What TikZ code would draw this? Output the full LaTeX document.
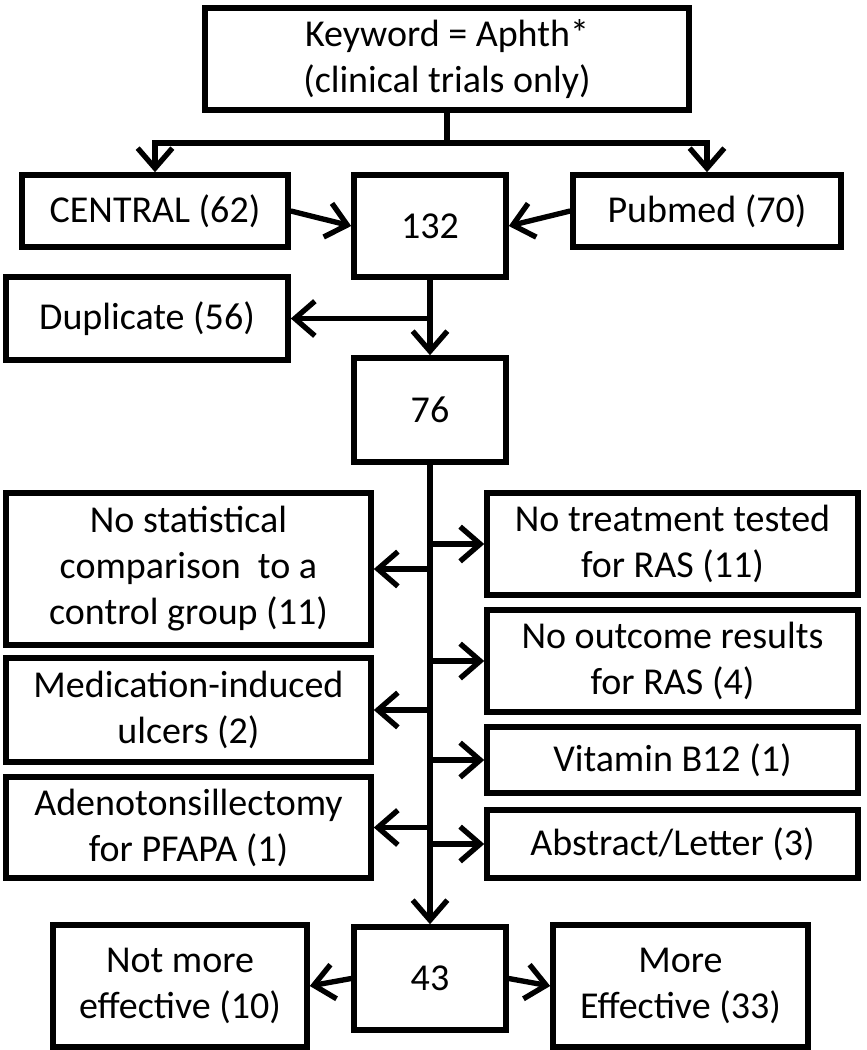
\documentclass[tikz,border=0pt]{standalone}
\usepackage{fontspec}
\setmainfont{Carlito}
\usetikzlibrary{arrows.meta}

\begin{document}
\begin{tikzpicture}[x=0.75pt,y=-0.75pt,
    box/.style={draw, line width=4.2pt, align=center, inner sep=0pt,
      font=\fontsize{28.5pt}{34.5pt}\selectfont},
    link/.style={line width=4pt},
    arr/.style={link, -{Straight Barb[length=15pt,width=26pt,line width=4pt]}}]
  %%%%% START %%%%%
  \useasboundingbox (0,0) rectangle (867,1050);

  \node[box, minimum width=484*0.75pt, minimum height=102*0.75pt] (kw) at (447,59) {Keyword = Aphth*\\(clinical trials only)};
  \node[box, minimum width=266*0.75pt, minimum height=72*0.75pt] (central) at (155,211) {CENTRAL (62)};
  \node[box, minimum width=152*0.75pt, minimum height=102*0.75pt] (n132) at (430,226) {132};
  \node[box, minimum width=268*0.75pt, minimum height=72*0.75pt] (pubmed) at (707,211) {Pubmed (70)};
  \node[box, minimum width=282*0.75pt, minimum height=83*0.75pt] (dup) at (147,318.5) {Duplicate (56)};
  \node[box, minimum width=152*0.75pt, minimum height=104*0.75pt] (n76) at (430,410) {76};

  \node[box, minimum width=365*0.75pt, minimum height=152*0.75pt] (nostat) at (188.5,569) {No statistical\\comparison\ \ to a\\control group (11)};
  \node[box, minimum width=365*0.75pt, minimum height=104*0.75pt] (medic) at (188.5,710) {Medication-induced\\ulcers (2)};
  \node[box, minimum width=365*0.75pt, minimum height=101*0.75pt] (adeno) at (188.5,827.5) {Adenotonsillectomy\\for PFAPA (1)};
  \node[box, minimum width=371*0.75pt, minimum height=102*0.75pt] (notreat) at (672.5,544) {No treatment tested\\for RAS (11)};
  \node[box, minimum width=371*0.75pt, minimum height=102*0.75pt] (nooutc) at (672.5,661) {No outcome results\\for RAS (4)};
  \node[box, minimum width=371*0.75pt, minimum height=66*0.75pt] (vitb) at (672.5,760) {Vitamin B12 (1)};
  \node[box, minimum width=371*0.75pt, minimum height=68*0.75pt] (abstr) at (672.5,844) {Abstract/Letter (3)};

  \node[box, minimum width=152*0.75pt, minimum height=103*0.75pt] (n43) at (430,978.5) {43};
  \node[box, minimum width=254*0.75pt, minimum height=122*0.75pt] (notmore) at (180,986) {Not more\\effective (10)};
  \node[box, minimum width=255*0.75pt, minimum height=122*0.75pt] (more) at (680.5,986) {More\\Effective (33)};

  % split below the keyword box
  \coordinate (split) at (447,143);
  \draw[link] (kw.south) -- (split);
  \draw[arr] (split) -| (central);
  \draw[arr] (split) -| (pubmed);
  \draw[arr] (central.east) -- (n132.west);
  \draw[arr] (pubmed.west) -- (n132.east);

  \draw[arr] (n132) -- (n76);
  \draw[arr] (n132.south |- dup) -- (dup.east);

  % exclusions off the trunk
  \draw[arr] (n76) -- (n43);
  \foreach \l in {nostat,medic,adeno}
    \draw[arr] (n76.south |- \l) -- (\l.east);
  \foreach \r in {notreat,nooutc,vitb,abstr}
    \draw[arr] (n76.south |- \r) -- (\r.west);

  \draw[arr] (n43.west) -- (notmore.east);
  \draw[arr] (n43.east) -- (more.west);
  %%%%% END %%%%%
\end{tikzpicture}
\end{document}
